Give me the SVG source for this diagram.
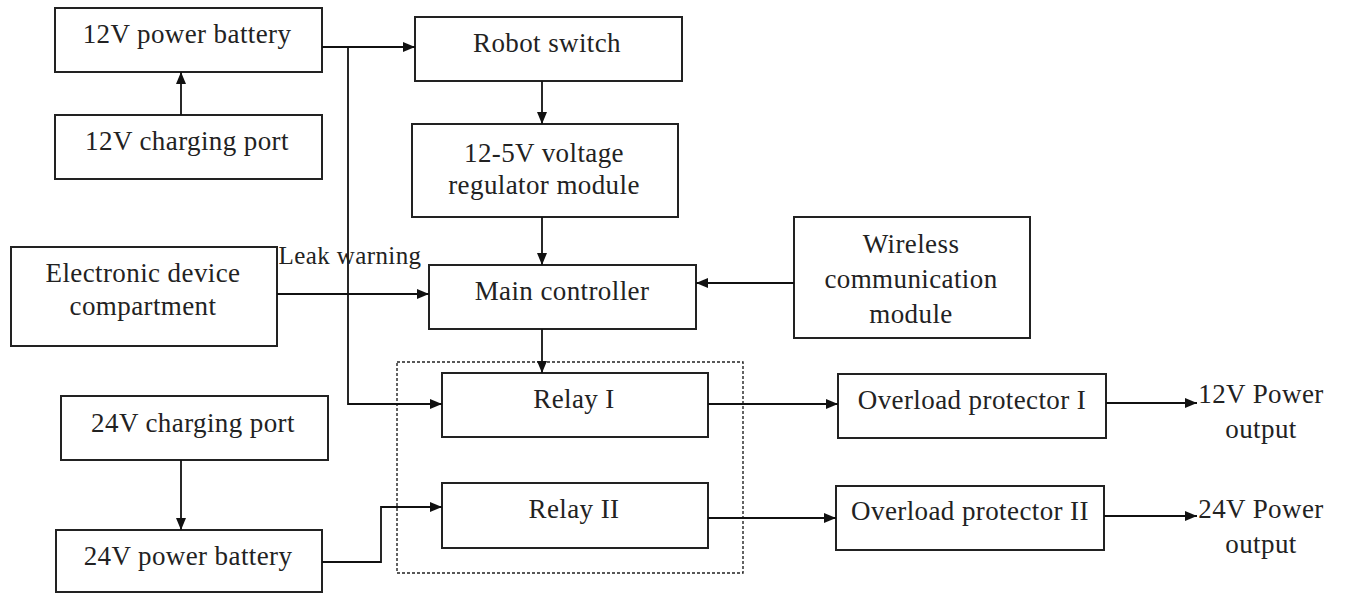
<svg xmlns="http://www.w3.org/2000/svg" width="1345" height="594" viewBox="0 0 1345 594" font-family="Liberation Serif" font-size="27">
<style>
.box{fill:#fff;stroke:#222;stroke-width:2}
.t{fill:#222;text-anchor:middle;letter-spacing:0.4px}
.c{fill:none;stroke:#111;stroke-width:1.8}
.dash{fill:none;stroke:#222;stroke-width:1.4;stroke-dasharray:3,2}
</style>
<defs>
<marker id="ah" viewBox="0 0 12 10" refX="12" refY="5" markerWidth="12" markerHeight="10" markerUnits="userSpaceOnUse" orient="auto">
<path d="M0,0 L12,5 L0,10 z" fill="#111"/>
</marker>
</defs>
<rect class="dash" x="397" y="362" width="346" height="211"/>
<g id="n_bat12"><rect class="box" x="55" y="8" width="267" height="64"/><text class="t" x="187" y="43">12V power battery</text></g>
<g id="n_chg12"><rect class="box" x="55" y="115" width="267" height="64"/><text class="t" x="187" y="150">12V charging port</text></g>
<g id="n_switch"><rect class="box" x="415" y="17" width="267" height="64"/><text class="t" x="547" y="52">Robot switch</text></g>
<g id="n_reg"><rect class="box" x="412" y="124" width="266" height="93"/><text class="t" x="544" y="162">12-5V voltage</text><text class="t" x="544" y="194">regulator module</text></g>
<g id="n_edc"><rect class="box" x="11" y="247" width="266" height="99"/><text class="t" x="143" y="282">Electronic device</text><text class="t" x="143" y="315">compartment</text></g>
<g id="n_main"><rect class="box" x="429" y="265" width="267" height="64"/><text class="t" x="562" y="300">Main controller</text></g>
<g id="n_wireless"><rect class="box" x="794" y="217" width="236" height="121"/><text class="t" x="911" y="253">Wireless</text><text class="t" x="911" y="288">communication</text><text class="t" x="911" y="323">module</text></g>
<g id="n_relay1"><rect class="box" x="442" y="373" width="266" height="64"/><text class="t" x="574" y="408">Relay I</text></g>
<g id="n_relay2"><rect class="box" x="442" y="483" width="266" height="65"/><text class="t" x="574" y="518">Relay II</text></g>
<g id="n_chg24"><rect class="box" x="61" y="396" width="267" height="64"/><text class="t" x="193" y="432">24V charging port</text></g>
<g id="n_bat24"><rect class="box" x="56" y="530" width="266" height="62"/><text class="t" x="188" y="565">24V power battery</text></g>
<g id="n_ol1"><rect class="box" x="838" y="374" width="268" height="64"/><text class="t" x="972" y="409">Overload protector I</text></g>
<g id="n_ol2"><rect class="box" x="836" y="486" width="268" height="64"/><text class="t" x="970" y="520">Overload protector II</text></g>
<g id="n_out12"><text class="t" x="1261" y="403">12V Power</text><text class="t" x="1261" y="438">output</text></g>
<g id="n_out24"><text class="t" x="1261" y="518">24V Power</text><text class="t" x="1261" y="553">output</text></g>
<g id="connectors">
<path class="c" d="M181,115 V72" marker-end="url(#ah)"/>
<path class="c" d="M322,47 H415" marker-end="url(#ah)"/>
<path class="c" d="M348,47 V404 H442" marker-end="url(#ah)"/>
<path class="c" d="M542,81 V124" marker-end="url(#ah)"/>
<path class="c" d="M542,217 V265" marker-end="url(#ah)"/>
<path class="c" d="M277,294 H429" marker-end="url(#ah)"/>
<text class="t" x="350" y="264" font-size="25">Leak warning</text>
<path class="c" d="M794,283 H696" marker-end="url(#ah)"/>
<path class="c" d="M542,329 V373" marker-end="url(#ah)"/>
<path class="c" d="M181,460 V530" marker-end="url(#ah)"/>
<path class="c" d="M322,562 H381 V507 H442" marker-end="url(#ah)"/>
<path class="c" d="M708,404 H838" marker-end="url(#ah)"/>
<path class="c" d="M708,518 H836" marker-end="url(#ah)"/>
<path class="c" d="M1106,403 H1197" marker-end="url(#ah)"/>
<path class="c" d="M1104,516 H1197" marker-end="url(#ah)"/>
</g>
</svg>
